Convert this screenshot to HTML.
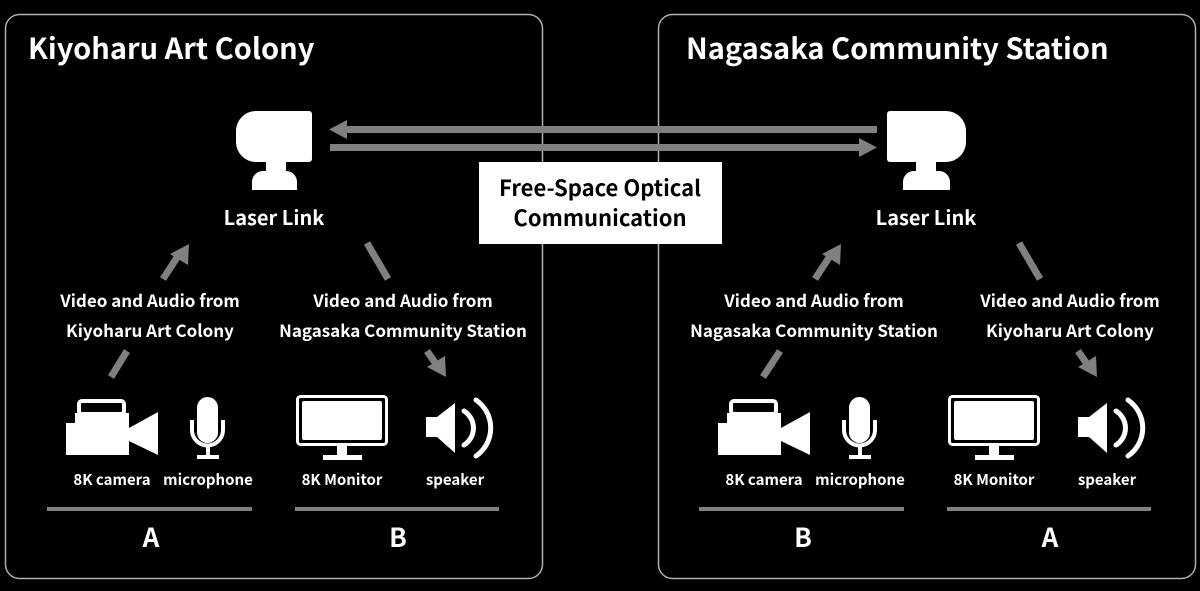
<!DOCTYPE html>
<html><head><meta charset="utf-8"><style>
html,body{margin:0;padding:0;background:#000;}
svg{display:block;font-family:"Noto Sans CJK JP","Liberation Sans",sans-serif;font-weight:bold;}
</style></head><body>
<svg width="1200" height="591" viewBox="0 0 1200 591" xmlns="http://www.w3.org/2000/svg">
<defs>
<g id="bottom">
  <rect x="79" y="401" width="45" height="13" rx="3" fill="none" stroke="#fff" stroke-width="4"/>
  <path d="M75 413 H129 V455 H66 V423 H75 Z" fill="#fff"/>
  <path d="M129 428 L158 412 V455 L129 441 Z" fill="#fff"/>
  <rect x="197" y="397" width="21" height="46" rx="10.5" fill="#fff"/>
  <path d="M192 420 V430 A15.5 15.5 0 0 0 223 430 V420" fill="none" stroke="#fff" stroke-width="4"/>
  <rect x="206" y="445" width="4" height="12" fill="#fff"/>
  <rect x="197" y="455" width="22" height="4" fill="#fff"/>
  <rect x="297.5" y="396.5" width="89" height="48" rx="3" fill="none" stroke="#fff" stroke-width="3"/>
  <rect x="302" y="401" width="80" height="39" rx="2" fill="#fff"/>
  <rect x="337" y="446" width="10" height="10" fill="#fff"/>
  <rect x="323" y="455" width="39" height="5" fill="#fff"/>
  <path d="M426 417 H437 L455 403 V453 L437 437 H426 Z" fill="#fff"/>
  <path d="M464 411 A20 20 0 0 1 464 445" fill="none" stroke="#fff" stroke-width="5" stroke-linecap="round"/>
  <path d="M476 400 A34 34 0 0 1 476 456" fill="none" stroke="#fff" stroke-width="5" stroke-linecap="round"/>
  <g font-size="15" fill="#fff" text-anchor="middle">
    <text x="112" y="485">8K camera</text>
    <text x="208" y="485">microphone</text>
    <text x="342" y="485">8K Monitor</text>
    <text x="455" y="485">speaker</text>
  </g>
  <rect x="47" y="507" width="205" height="4" fill="#808080"/>
  <rect x="295" y="507" width="204" height="4" fill="#808080"/>
</g>
</defs>

<rect x="5.5" y="14.5" width="537" height="564" rx="14" fill="#000" stroke="#b0b0b0" stroke-width="1.5"/>
<rect x="658.5" y="14.5" width="537" height="564" rx="14" fill="#000" stroke="#b0b0b0" stroke-width="1.5"/>

<text x="28" y="59" font-size="29" fill="#fff">Kiyoharu Art Colony</text>
<text x="686" y="59" font-size="29" fill="#fff">Nagasaka Community Station</text>

<path d="M256 111 H309 A3 3 0 0 1 312 114 V159 A3 3 0 0 1 309 162 H256 A20 20 0 0 1 236 142 V131 A20 20 0 0 1 256 111 Z" fill="#fff"/>
<rect x="266" y="161" width="20" height="11" fill="#fff"/>
<path d="M252 190 V183 A11 11 0 0 1 263 171 H286 A11 11 0 0 1 297 183 V190 Z" fill="#fff"/>
<path d="M890 111 H946 A20 20 0 0 1 966 131 V142 A20 20 0 0 1 946 162 H890 A3 3 0 0 1 887 159 V114 A3 3 0 0 1 890 111 Z" fill="#fff"/>
<rect x="916" y="161" width="20" height="11" fill="#fff"/>
<path d="M903 190 V183 A11 11 0 0 1 914 171 H939 A11 11 0 0 1 950 183 V190 Z" fill="#fff"/>

<text x="274" y="225" font-size="20" fill="#fff" text-anchor="middle">Laser Link</text>
<text x="926" y="225" font-size="20" fill="#fff" text-anchor="middle">Laser Link</text>

<rect x="345" y="126" width="532" height="7" fill="#808080"/>
<path d="M329 129.5 L347 120 V139 Z" fill="#808080"/>
<rect x="330" y="144" width="530" height="7" fill="#808080"/>
<path d="M877 147.5 L859 138 V157 Z" fill="#808080"/>

<rect x="479" y="162" width="243" height="82" fill="#fff"/>
<text x="600" y="196" font-size="22" fill="#000" text-anchor="middle">Free-Space Optical</text>
<text x="600" y="226" font-size="22" fill="#000" text-anchor="middle">Communication</text>

<g stroke="#808080" stroke-width="7" fill="#808080">
<line x1="111" y1="377" x2="127" y2="351"/>
<line x1="163" y1="279" x2="178" y2="256"/>
<line x1="367" y1="243" x2="388" y2="279"/>
<line x1="427" y1="351" x2="436" y2="364"/>
<line x1="763" y1="377" x2="780" y2="351"/>
<line x1="815" y1="279" x2="830" y2="256"/>
<line x1="1019" y1="243" x2="1040" y2="279"/>
<line x1="1078" y1="351" x2="1087" y2="364"/>
</g>
<g fill="#808080">
<path d="M189 244 L188 265 L170 254 Z"/>
<path d="M841 244 L840 265 L822 254 Z"/>
<path d="M446 377 L427 367 L445 356 Z"/>
<path d="M1097 377 L1078 367 L1096 356 Z"/>
</g>

<g font-size="17" fill="#fff" text-anchor="middle">
<text x="150" y="307">Video and Audio from</text>
<text x="150" y="337">Kiyoharu Art Colony</text>
<text x="403" y="307">Video and Audio from</text>
<text x="403" y="337">Nagasaka Community Station</text>
<text x="814" y="307">Video and Audio from</text>
<text x="814" y="337">Nagasaka Community Station</text>
<text x="1070" y="307">Video and Audio from</text>
<text x="1070" y="337">Kiyoharu Art Colony</text>
</g>

<use href="#bottom"/>
<use href="#bottom" transform="translate(652,0)"/>

<g font-size="26" fill="#fff" text-anchor="middle">
<text x="151" y="547">A</text>
<text x="398" y="547">B</text>
<text x="803" y="547">B</text>
<text x="1050" y="547">A</text>
</g>
</svg>
</body></html>
